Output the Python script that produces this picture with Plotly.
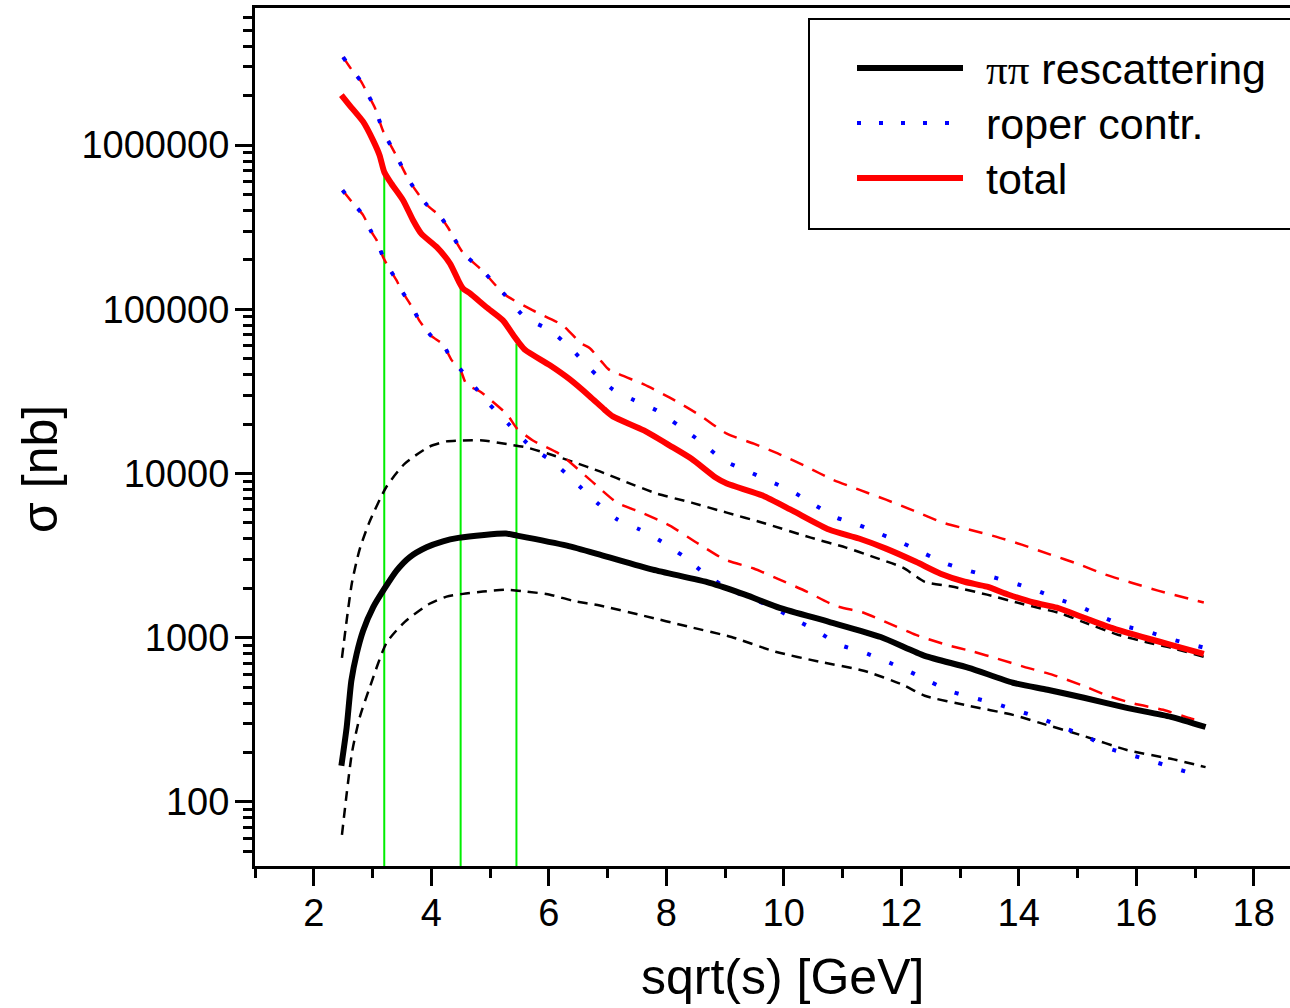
import plotly.graph_objects as go

# ---------------- data ----------------
# pi-pi rescattering: central, upper and lower band
x_pipi = [2.47, 2.56, 2.64, 2.73, 2.84, 3.01, 3.20, 3.41, 3.63, 3.92, 4.20, 4.46, 4.90, 5.27,
          5.46, 6.31, 6.87, 7.77, 8.74, 9.34, 9.93, 10.77, 11.65, 12.40, 13.15, 13.90, 14.49,
          15.11, 15.84, 16.59, 17.18]
pipi = [166, 284, 547, 798, 1104, 1531, 1982, 2564, 3090, 3556, 3866, 4055, 4230, 4310,
        4190, 3640, 3210, 2600, 2160, 1830, 1520, 1250, 1010, 776, 656, 532, 482,
        431, 374, 330, 286]

x_pipi_up = [2.48, 2.65, 2.78, 2.95, 3.24, 3.55, 3.97, 4.26, 4.54, 4.88, 5.34, 5.63, 6.02, 6.41,
             6.87, 7.43, 7.84, 8.43, 9.03, 9.64, 10.46, 11.06, 11.51, 12.03, 12.40, 12.86,
             13.46, 14.05, 14.73, 15.09, 15.70, 16.21, 16.59, 17.15]
pipi_up = [755, 2160, 3440, 5090, 8340, 11500, 14600, 15700, 15900, 15900, 15000, 14400, 13100,
           11800, 10300, 8570, 7550, 6650, 5780, 5020, 4070, 3540, 3120, 2670, 2190, 2050,
           1830, 1610, 1400, 1250, 1040, 933, 869, 766]

x_pipi_lo = [2.48, 2.65, 2.78, 2.95, 3.24, 3.55, 3.97, 4.26, 4.54, 4.88, 5.29, 5.63, 6.02, 6.41,
             6.87, 7.62, 8.37, 9.11, 9.86, 10.61, 11.36, 12.03, 12.40, 13.15, 13.90, 14.36,
             15.11, 15.84, 16.59, 17.18]
pipi_lo = [63, 199, 325, 495, 933, 1250, 1610, 1780, 1850, 1910, 1960, 1910, 1830, 1680,
           1570, 1360, 1170, 1010, 822, 714, 630, 516, 443, 385, 339, 303,
           252, 207, 183, 163]

# roper contribution: upper and lower band
x_roper_up = [2.50, 2.64, 2.81, 2.92, 3.04, 3.18, 3.41, 3.63, 3.92, 4.15, 4.29, 4.54, 4.88,
              5.25, 5.59, 6.02, 6.36, 6.70, 7.09, 7.46, 7.84, 8.21, 8.60, 8.98, 9.37, 9.74,
              10.12, 10.49, 10.89, 11.26, 11.63, 12.01, 12.40, 12.77, 13.15, 13.52, 13.90,
              14.27, 14.65, 15.04, 15.42, 15.80, 16.19, 16.57, 16.96, 17.15]
roper_up = [3440000, 2900000, 2430000, 2040000, 1690000, 1220000, 857000, 603000, 435000,
            369000, 313000, 221000, 171000, 123000, 89700, 74500, 58600, 43600, 32500, 27900,
            24200, 19600, 15500, 12000, 10400, 9060, 7870, 6560, 5400, 4890, 4310, 3790, 3250,
            2820, 2560, 2360, 2160, 1960, 1730, 1550, 1340, 1180, 1090, 986, 906, 871]

x_roper_lo = [2.49, 2.67, 2.84, 2.98, 3.07, 3.18, 3.27, 3.41, 3.49, 3.69, 3.80, 4.00, 4.20,
              4.35, 4.49, 4.96, 5.34, 5.71, 6.07, 6.44, 6.82, 7.17, 7.55, 7.92, 8.30, 8.66,
              9.08, 9.46, 9.83, 10.20, 10.58, 10.95, 11.33, 11.72, 12.11, 12.49, 12.86, 13.23,
              13.61, 13.98, 14.36, 14.73, 15.14, 15.52, 15.89, 16.26, 16.64, 17.03, 17.15]
roper_lo = [532000, 442000, 375000, 297000, 264000, 208000, 181000, 150000, 131000, 101000,
            85100, 68900, 61200, 48900, 43400, 27100, 19600, 14400, 11800, 8930, 6650, 5250,
            4560, 3850, 3120, 2450, 1960, 1730, 1520, 1290, 1090, 906, 822, 724, 630, 540, 469,
            431, 396, 359, 325, 286, 252, 213, 194, 178, 161, 146, 141]

# total: central, upper and lower band
x_total = [2.47, 2.61, 2.84, 3.01, 3.12, 3.20, 3.32, 3.52, 3.69, 3.83, 4.09, 4.32, 4.46, 4.54,
           4.66, 4.94, 5.22, 5.42, 5.50, 5.60, 6.02, 6.36, 6.70, 6.95, 7.09, 7.62, 8.06, 8.43,
           8.84, 9.03, 9.64, 10.15, 10.77, 11.28, 11.74, 12.25, 12.67, 13.08, 13.46, 13.83,
           14.27, 14.65, 15.11, 15.62, 16.21, 16.59, 17.15]
total = [2020000, 1750000, 1390000, 1070000, 869000, 687000, 584000, 462000, 349000, 289000,
         240000, 190000, 150000, 134000, 125000, 103000, 85700, 67800, 62100, 56500, 45600,
         37400, 29500, 24500, 22300, 18300, 14800, 12300, 9460, 8690, 7350, 5940, 4560, 4020,
         3490, 2900, 2455, 2193, 2046, 1828, 1633, 1524, 1324, 1135, 986, 906, 798]

x_total_up = [2.50, 2.64, 2.81, 2.92, 3.04, 3.18, 3.41, 3.63, 3.92, 4.15, 4.29, 4.54, 4.88,
              5.25, 5.73, 6.24, 6.55, 6.70, 6.90, 7.02, 7.62, 8.06, 8.55, 9.03, 9.49, 9.93,
              10.39, 10.83, 11.28, 11.74, 12.21, 12.71, 13.15, 13.61, 14.05, 14.54, 14.99,
              15.43, 15.92, 16.37, 16.89, 17.15]
total_up = [3440000, 2900000, 2430000, 2040000, 1690000, 1220000, 857000, 603000, 435000,
            369000, 313000, 221000, 171000, 123000, 98600, 79800, 62100, 58000, 48000, 43100,
            34900, 29000, 22900, 17500, 15200, 13100, 11000, 9180, 7980, 6930, 5940, 5020,
            4560, 4130, 3690, 3210, 2830, 2455, 2163, 1936, 1730, 1640]

x_total_lo = [2.49, 2.67, 2.84, 2.98, 3.07, 3.18, 3.27, 3.41, 3.49, 3.69, 3.80, 4.00, 4.20,
              4.35, 4.49, 4.60, 4.83, 5.29, 5.46, 5.73, 6.19, 6.70, 7.16, 7.58, 8.06, 8.52,
              9.00, 9.49, 9.93, 10.39, 10.87, 11.36, 11.80, 12.25, 12.77, 13.23, 13.64, 14.09,
              14.58, 15.06, 15.52, 15.97, 16.46, 16.94, 17.15]
total_lo = [532000, 442000, 375000, 297000, 264000, 208000, 181000, 150000, 131000, 101000,
            85100, 68900, 61200, 48900, 43400, 34900, 31600, 22900, 18800, 15900, 13100, 9180,
            6650, 5780, 4820, 3790, 2990, 2640, 2260, 1910, 1570, 1420, 1220, 1040, 906, 822,
            745, 665, 594, 516, 443, 396, 364, 321, 309]

# green vertical markers (x position, top value on the total curve)
marker_x = [3.2, 4.5, 5.45]
marker_top = [680000, 143000, 62000]
marker_bottom = 30

y_tickvals = [100, 1000, 10000, 100000, 1000000]
y_ticktext = ["100", "1000", "10000", "100000", "1000000"]
x_tickvals = [2, 4, 6, 8, 10, 12, 14, 16, 18]

legend_labels = ["<span style='font-family:Liberation Serif'>\u03c0\u03c0</span> rescattering",
                 "roper contr.", "total"]

# ---------------- figure ----------------
FONT = "Liberation Sans, Arial, sans-serif"
W, H = 1290, 1008
ML, MR, MT, MB = 255, 0, 8, 142
PW, PH = W - ML - MR, H - MT - MB


def px_x(p):
    return (p - ML) / PW


def px_y(p):
    return (H - MB - p) / PH


fig = go.Figure()

RED = "#ff0000"
BLUE = "#0000ff"
BLACK = "#000000"
GREEN = "#00ee00"
SM = 0.6

# green markers
for mx, mt in zip(marker_x, marker_top):
    fig.add_trace(go.Scatter(x=[mx, mx], y=[marker_bottom, mt], mode="lines",
                             line=dict(color=GREEN, width=2), showlegend=False,
                             hoverinfo="skip"))


def band(xs, ys, color, width, dash):
    fig.add_trace(go.Scatter(x=xs, y=ys, mode="lines",
                             line=dict(color=color, width=width, dash=dash, shape="spline",
                                       smoothing=SM), showlegend=False))


band(x_pipi_up, pipi_up, BLACK, 2.5, "10px,7px")
band(x_pipi_lo, pipi_lo, BLACK, 2.5, "10px,7px")
band(x_total_up, total_up, RED, 2.5, "14px,10px")
band(x_total_lo, total_lo, RED, 2.5, "14px,10px")
band(x_roper_up, roper_up, BLUE, 4, "4px,20px")
band(x_roper_lo, roper_lo, BLUE, 4, "4px,20px")

# central curves
fig.add_trace(go.Scatter(x=x_pipi, y=pipi, mode="lines",
                         line=dict(color=BLACK, width=6, shape="spline", smoothing=SM),
                         showlegend=False))
fig.add_trace(go.Scatter(x=x_total, y=total, mode="lines",
                         line=dict(color=RED, width=6, shape="spline", smoothing=SM),
                         showlegend=False))

# minor ticks for the log axis
minor_y = []
for dec in [10, 100, 1000, 10000, 100000, 1000000]:
    for k in range(2, 10):
        minor_y.append(k * dec)

fig.update_xaxes(
    range=[1, 1 + PW / 58.75], tickmode="array", tickvals=x_tickvals,
    ticks="outside", ticklen=17, tickwidth=3, tickcolor=BLACK,
    showline=True, linewidth=3, linecolor=BLACK, mirror=True,
    showgrid=False, zeroline=False, automargin=False,
    tickfont=dict(family=FONT, size=38, color=BLACK), ticklabelstandoff=-6,
    minor=dict(tickmode="linear", tick0=1, dtick=2, ticks="outside", ticklen=9,
               tickwidth=3, tickcolor=BLACK, showgrid=False),
)
fig.update_yaxes(
    type="log", range=[1.6098, 6.8354], tickmode="array", tickvals=y_tickvals,
    ticktext=y_ticktext, ticks="outside", ticklen=17, tickwidth=3, tickcolor=BLACK,
    showline=True, linewidth=3, linecolor=BLACK, mirror=False,
    showgrid=False, zeroline=False, automargin=False,
    tickfont=dict(family=FONT, size=38, color=BLACK), ticklabelstandoff=-2,
    minor=dict(tickmode="array", tickvals=minor_y, ticks="outside", ticklen=9,
               tickwidth=3, tickcolor=BLACK, showgrid=False),
)

shapes = []
annotations = []

# legend box
shapes.append(dict(type="rect", xref="paper", yref="paper",
                   x0=px_x(809), x1=px_x(1300), y0=px_y(229), y1=px_y(19),
                   line=dict(color=BLACK, width=2), fillcolor="white", layer="above"))
legend_rows = [68, 123, 178]
legend_styles = [dict(color=BLACK, width=6), dict(color=BLUE, width=4, dash="4px,18px"),
                 dict(color=RED, width=6)]
for ry, st, lab in zip(legend_rows, legend_styles, legend_labels):
    shapes.append(dict(type="line", xref="paper", yref="paper",
                       x0=px_x(857), x1=px_x(963), y0=px_y(ry), y1=px_y(ry),
                       line=st, layer="above"))
    annotations.append(dict(xref="paper", yref="paper", x=px_x(984), y=px_y(ry + 1),
                            xanchor="left", yanchor="middle", text=lab, showarrow=False,
                            font=dict(family=FONT, size=43, color=BLACK)))

# axis titles
annotations.append(dict(xref="paper", yref="paper", x=px_x(782), y=px_y(977),
                        xanchor="center", yanchor="middle", text="sqrt(s) [GeV]",
                        showarrow=False, font=dict(family=FONT, size=50, color=BLACK)))
annotations.append(dict(xref="paper", yref="paper", x=px_x(40), y=px_y(469),
                        xanchor="center", yanchor="middle", text="\u03c3 [nb]", textangle=-90,
                        showarrow=False, font=dict(family=FONT, size=50, color=BLACK)))

fig.update_layout(
    width=W, height=H, margin=dict(l=ML, r=MR, t=MT, b=MB, pad=0),
    paper_bgcolor="white", plot_bgcolor="white", showlegend=False,
    shapes=shapes, annotations=annotations,
)

fig.write_html("out.html")
